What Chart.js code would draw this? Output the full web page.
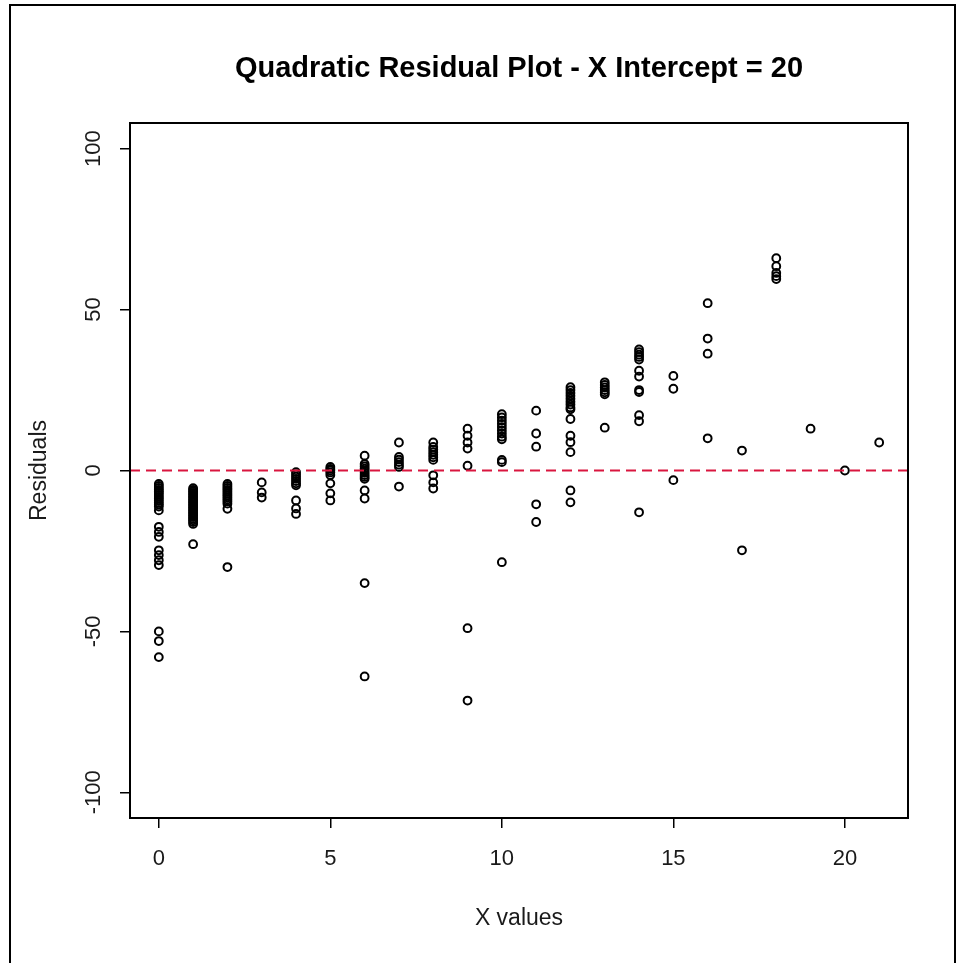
<!DOCTYPE html>
<html>
<head>
<meta charset="utf-8">
<script src="https://cdn.jsdelivr.net/npm/chart.js@4/dist/chart.umd.min.js"></script>
<style>
  html, body { margin: 0; padding: 0; background: #fff; overflow: hidden; }
  #wrap { position: relative; width: 960px; height: 963px; }
  #chart { position: absolute; left: 0; top: 0; }
  .frame { position: absolute; left: 9px; top: 4px; width: 943px; height: 1200px;
           border: 2px solid #000; border-bottom: none; pointer-events: none; }
</style>
</head>
<body>
<div id="wrap">
  <canvas id="chart" width="960" height="963"></canvas>
  <div class="frame"></div>
</div>
<script>
'use strict';

var xLevels = [0, 1, 2, 3, 4, 5, 6, 7, 8, 9, 10, 11, 12, 13, 14, 15, 16, 17, 18, 19, 20, 21];
var residualGroups = [
  [-4.2, -4.8, -5.4, -6, -6.5, -7, -7.6, -8.2, -8.8, -9.4, -10, -10.6, -11.2, -12.4, -17.5, -19.1, -20.6, -24.8, -26.3, -27.9, -29.4, -50, -53, -58],
  [-5.5, -6, -6.5, -7, -7.5, -8, -8.5, -9, -9.5, -10, -10.5, -11, -11.5, -12, -12.5, -13, -13.5, -14, -14.5, -15, -15.5, -16, -16.6, -22.9],
  [-4.2, -4.8, -5.4, -6, -6.6, -7.2, -7.8, -8.4, -9, -9.6, -10.3, -11.9, -30],
  [-3.7, -6.8, -8.4],
  [-0.5, -1.2, -1.9, -2.6, -3.3, -4, -4.6, -9.3, -11.8, -13.5],
  [1.1, 0.5, 0, -0.6, -1.4, -4, -7.1, -9.3],
  [4.6, 2, 1.3, 0.6, 0, -0.7, -1.4, -2, -2.6, -6.2, -8.7, -35, -64],
  [8.7, 4.2, 3.4, 2.6, 1.8, 1.1, -5],
  [8.7, 7.3, 6.5, 5.7, 4.9, 4.1, 3.3, -1.5, -3.7, -5.6],
  [13, 10.8, 8.7, 6.8, 1.5, -49, -71.5],
  [17.5, 16.5, 15.5, 14.5, 13.5, 12.5, 11.5, 10.5, 9.7, 3.3, 2.6, -28.5],
  [18.6, 11.5, 7.4, -10.5, -16],
  [25.9, 25, 24.1, 23.2, 22.3, 21.4, 20.5, 19.6, 19, 16, 10.8, 8.8, 5.7, -6.2, -9.9],
  [27.4, 26.6, 25.8, 25, 24.3, 23.7, 13.3],
  [37.6, 36.8, 36, 35.3, 34.5, 31, 29.2, 25, 24.4, 17.2, 15.3, -13],
  [29.4, 25.4, -3],
  [52, 41, 36.3, 10],
  [6.2, -24.8],
  [66, 63.5, 61.4, 60.4, 59.5],
  [13],
  [0],
  [8.7]
];

var xTicks = [0, 5, 10, 15, 20];
var yTicks = [-100, -50, 0, 50, 100];
var xRange = [-0.84, 21.84];
var yRange = [-108, 108];

var chartTitle = 'Quadratic Residual Plot - X Intercept = 20';
var xTitle = 'X values';
var yTitle = 'Residuals';

var points = [];
xLevels.forEach(function(x, i) {
  residualGroups[i].forEach(function(r) {
    points.push({x: x, y: r});
  });
});

var fontFamily = '"Liberation Sans", Arial, sans-serif';
var textColor = '#1a1a1a';

var framePlugin = {
  id: 'rframe',
  afterDraw: function(chart) {
    var ctx = chart.ctx;
    var a = chart.chartArea;
    ctx.save();
    ctx.strokeStyle = '#000';
    ctx.lineWidth = 2;
    ctx.strokeRect(a.left, a.top, a.right - a.left, a.bottom - a.top);
    ctx.fillStyle = '#000';
    ctx.font = 'bold 29px ' + fontFamily;
    ctx.textAlign = 'center';
    ctx.textBaseline = 'middle';
    ctx.fillText(chartTitle, (a.left + a.right) / 2, 69);
    ctx.restore();
  }
};

new Chart(document.getElementById('chart'), {
  type: 'scatter',
  data: {
    datasets: [{
      type: 'line',
      data: [{x: xRange[0], y: 0}, {x: xRange[1], y: 0}],
      borderColor: '#d9163f',
      borderWidth: 2,
      borderDash: [10, 6],
      pointRadius: 0,
      order: 0
    }, {
      data: points,
      pointStyle: 'circle',
      pointRadius: 3.9,
      pointBorderWidth: 2,
      borderColor: '#000',
      backgroundColor: 'rgba(0,0,0,0)',
      order: 1
    }]
  },
  options: {
    responsive: false,
    animation: false,
    layout: {padding: {left: 0, right: 52, top: 123, bottom: 0}},
    plugins: {
      legend: {display: false},
      tooltip: {enabled: false},
      title: {display: false}
    },
    scales: {
      x: {
        type: 'linear',
        min: xRange[0],
        max: xRange[1],
        afterBuildTicks: function(s) { s.ticks = xTicks.map(function(v) { return {value: v}; }); },
        afterFit: function(s) { s.height = 145; },
        grid: {drawOnChartArea: false, tickLength: 10, color: '#000', lineWidth: 1.5},
        border: {display: false},
        ticks: {padding: 18, color: textColor, font: {family: fontFamily, size: 22}},
        title: {display: true, text: xTitle, color: textColor, padding: {top: 0, bottom: 31},
                font: {family: fontFamily, size: 23}}
      },
      y: {
        type: 'linear',
        min: yRange[0],
        max: yRange[1],
        afterBuildTicks: function(s) { s.ticks = yTicks.map(function(v) { return {value: v}; }); },
        afterFit: function(s) { s.width = 130; },
        grid: {drawOnChartArea: false, tickLength: 10, color: '#000', lineWidth: 1.5},
        border: {display: false},
        ticks: {padding: 4, minRotation: 90, maxRotation: 90, crossAlign: 'center',
                color: textColor, font: {family: fontFamily, size: 22}},
        title: {display: true, text: yTitle, color: textColor, padding: {top: 26, bottom: 0},
                font: {family: fontFamily, size: 23}}
      }
    }
  },
  plugins: [framePlugin]
});
</script>
</body>
</html>
